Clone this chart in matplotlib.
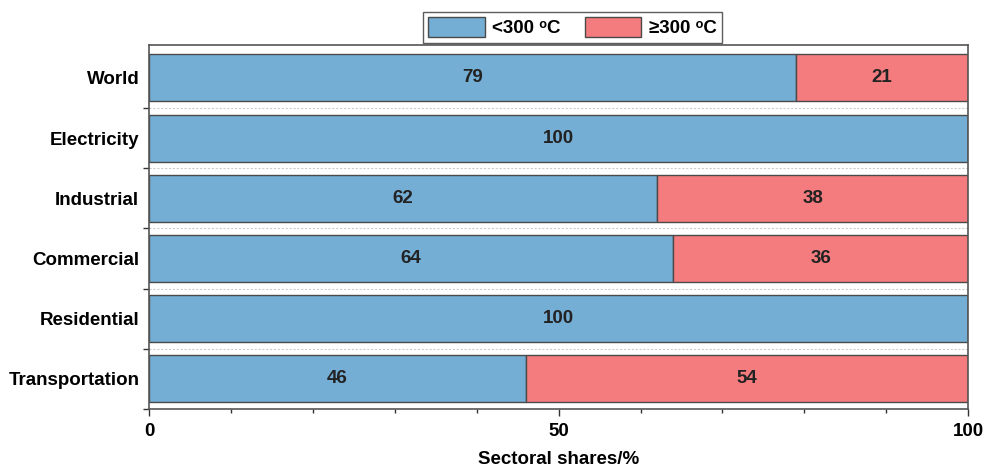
import matplotlib
matplotlib.use("Agg")
import matplotlib.pyplot as plt
import numpy as np
from matplotlib.ticker import MultipleLocator, FixedLocator

plt.rcParams['font.family'] = ['Liberation Sans', 'DejaVu Sans']
plt.rcParams['font.weight'] = 'bold'

categories = ["World", "Electricity", "Industrial", "Commercial", "Residential", "Transportation"]
low_temp = [79, 100, 62, 64, 100, 46]
high_temp = [21, 0, 38, 36, 0, 54]
series_labels = ["<300 \u1d52C", "\u2265300 \u1d52C"]
xticks = [0, 50, 100]

blue = "#74AED4"
red = "#F47C7E"
edge = "#4a4a4a"
fs = 13.5

fig = plt.figure(figsize=(9.87, 4.72), dpi=100)
ax = fig.add_axes([0.151, 0.1335, 0.830, 0.7715])

n = len(categories)
y = np.arange(n)[::-1]
h = 0.78
b1 = ax.barh(y, low_temp, height=h, color=blue, edgecolor=edge, linewidth=1.0, label=series_labels[0])
b2 = ax.barh(y, high_temp, left=low_temp, height=h, color=red, edgecolor=edge, linewidth=1.0, label=series_labels[1])

for yi, lv, hv in zip(y, low_temp, high_temp):
    if lv > 0:
        ax.text(lv / 2, yi, str(lv), ha='center', va='center', fontsize=fs, fontweight='bold', color='#222222')
    if hv > 0:
        ax.text(lv + hv / 2, yi, str(hv), ha='center', va='center', fontsize=fs, fontweight='bold', color='#222222')

# dotted separators between bars
for yb in np.arange(n - 1) + 0.5:
    ax.axhline(yb, color='#cccccc', linestyle=(0, (2, 1.5)), linewidth=0.8, zorder=0)

ax.set_xlim(0, 100)
ax.set_ylim(-0.5, n - 0.45)
ax.set_yticks(y)
ax.set_yticklabels(categories, fontsize=fs, fontweight='bold')
ax.tick_params(axis='y', which='major', length=0, pad=7)
ax.yaxis.set_minor_locator(FixedLocator(np.arange(n) - 0.5))
ax.tick_params(axis='y', which='minor', length=4, width=1, color='#333333')
ax.set_xticks(xticks)
ax.set_xticklabels([str(t) for t in xticks], fontsize=fs, fontweight='bold')
ax.xaxis.set_minor_locator(MultipleLocator(10))
ax.tick_params(axis='x', which='major', length=5, width=1, color='#333333', pad=5)
ax.tick_params(axis='x', which='minor', length=3, width=1, color='#333333')
ax.set_xlabel("Sectoral shares/%", fontsize=fs, fontweight='bold', labelpad=8)
for s in ax.spines.values():
    s.set_color('#555555')
    s.set_linewidth(1.2)

leg = fig.legend(handles=[b1, b2], loc='center', bbox_to_anchor=(0.58, 0.942), ncol=2,
                 fontsize=fs, frameon=True, fancybox=False, edgecolor='#333333',
                 handlelength=3.0, handleheight=1.2, columnspacing=1.3, borderpad=0.3,
                 handletextpad=0.4, borderaxespad=0.2)
leg.get_frame().set_linewidth(1.0)

fig.savefig("out.png", dpi=100, facecolor='white')
